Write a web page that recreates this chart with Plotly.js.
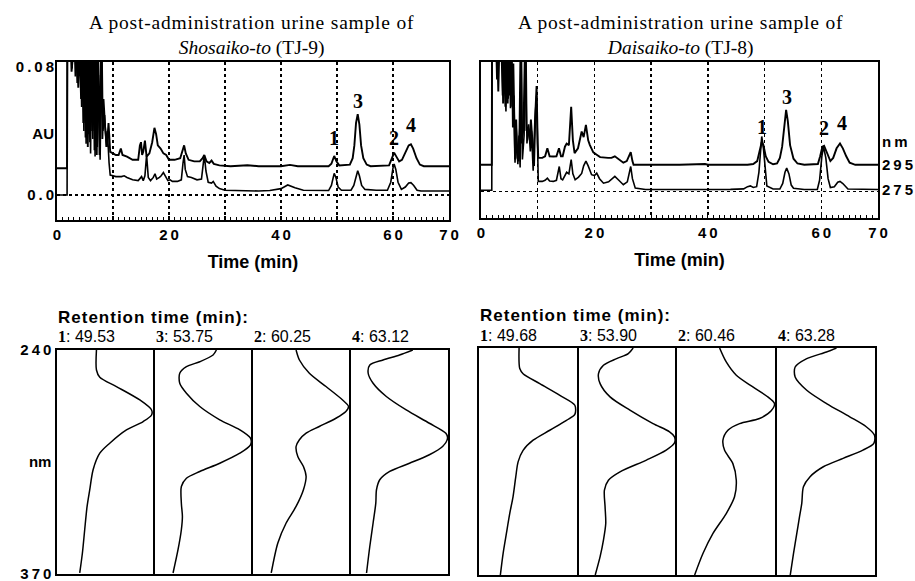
<!DOCTYPE html>
<html><head><meta charset="utf-8">
<script src="https://cdn.plot.ly/plotly-3.0.1.min.js"></script>
<style>body{margin:0;background:#fff}#g{width:915px;height:581px}</style>
</head><body><div id="g"></div>
<script>
// ---------- chromatogram data: [time (min), AU] ----------
const tj9_295 = [[0,0.0167],[1.8,0.0167],[1.85,0.1],[2.4,0.1],[2.6,0.077],[2.8,0.1],[3.1,0.1],[3.3,0.074],[3.5,0.1],[3.8,0.067],[4.0,0.1],[4.3,0.06],[4.5,0.1],[4.7,0.045],[4.9,0.1],[5.1,0.036],[5.3,0.1],[5.5,0.03],[5.7,0.09],[5.9,0.033],[6.1,0.1],[6.3,0.04],[6.5,0.1],[6.7,0.028],[6.9,0.085],[7.1,0.025],[7.3,0.1],[7.6,0.025],[7.9,0.1],[8.1,0.035],[8.3,0.06],[8.6,0.042],[8.9,0.03],[9.2,0.045],[9.5,0.027],
[10,0.026],[10.5,0.025],[11,0.025],[11.4,0.029],[11.7,0.025],[12.5,0.024],[13.5,0.022],[14.5,0.022],[14.8,0.031],[15.0,0.033],[15.2,0.025],[15.4,0.027],[15.7,0.034],[16.0,0.024],[16.5,0.026],[17.0,0.033],[17.4,0.042],[17.7,0.038],[18.0,0.031],[18.5,0.029],[19.0,0.026],[19.5,0.025],[20.0,0.022],[21.0,0.022],[22.0,0.023],[22.4,0.027],[22.7,0.031],[23.0,0.026],[23.5,0.022],[24.5,0.021],[25.5,0.021],[26.0,0.023],[26.3,0.025],[26.7,0.021],[27.2,0.02],[27.6,0.0215],[28.0,0.0195],[29,0.0185],[31,0.018],[34,0.0186],[36,0.018],[40,0.018],[41.6,0.0188],[43,0.018],[48.5,0.018],[49.0,0.0195],[49.5,0.0244],[49.9,0.021],[50.4,0.0185],[52.3,0.019],[52.8,0.023],[53.1,0.031],[53.4,0.045],[53.7,0.0505],[54.0,0.044],[54.3,0.031],[54.7,0.023],[55.3,0.019],[56,0.018],[59.3,0.0185],[59.8,0.023],[60.2,0.0265],[60.6,0.024],[61.1,0.021],[61.6,0.022],[62.2,0.026],[62.8,0.031],[63.2,0.0317],[63.6,0.029],[64.2,0.023],[64.8,0.019],[65.5,0.018],[70,0.018]];

const tj9_275 = [[0,0],[1.8,0],[1.85,0.1],[2.5,0.1],[2.7,0.079],[2.9,0.1],[3.4,0.1],[3.6,0.07],[3.8,0.1],[4.2,0.1],[4.4,0.055],[4.6,0.1],[4.8,0.04],[5.0,0.1],[5.2,0.032],[5.4,0.1],[5.6,0.038],[5.8,0.1],[6.0,0.026],[6.2,0.1],[6.4,0.035],[6.6,0.1],[6.8,0.024],[7.0,0.1],[7.2,0.03],[7.4,0.075],[7.7,0.022],[8.0,0.1],[8.2,0.04],[8.5,0.05],[8.8,0.03],[9.0,0.04],[9.3,0.02],[9.5,0.0125],
[10,0.012],[10.5,0.0115],[11.5,0.0115],[12,0.012],[12.5,0.011],[13.5,0.0095],[14.5,0.009],[14.8,0.0105],[15.1,0.0115],[15.4,0.009],[15.7,0.012],[16.0,0.025],[16.3,0.011],[16.7,0.009],[17.2,0.011],[17.5,0.0133],[17.8,0.01],[18.3,0.011],[18.6,0.012],[19.0,0.014],[19.4,0.011],[19.8,0.009],[20.2,0.0095],[20.6,0.0085],[21.5,0.0085],[22.2,0.0095],[22.5,0.02],[22.7,0.025],[22.9,0.016],[23.3,0.0115],[24,0.011],[25,0.0095],[25.8,0.01],[26.1,0.018],[26.3,0.025],[26.6,0.015],[27.0,0.008],[27.6,0.0075],[27.9,0.0085],[28.4,0.0055],[29,0.004],[30,0.003],[32,0.0028],[34,0.003],[36,0.0025],[38,0.0028],[40,0.004],[41.2,0.0063],[42.5,0.0045],[44,0.003],[46,0.0028],[48.5,0.0028],[49.0,0.006],[49.3,0.0115],[49.5,0.0135],[49.8,0.011],[50.2,0.005],[50.8,0.003],[52.5,0.003],[53.0,0.006],[53.4,0.012],[53.7,0.0152],[54.0,0.012],[54.4,0.006],[55,0.0035],[57,0.003],[59,0.003],[59.6,0.008],[60.0,0.017],[60.2,0.0194],[60.5,0.016],[60.9,0.008],[61.5,0.0035],[62.2,0.005],[62.8,0.0075],[63.2,0.0077],[63.7,0.006],[64.3,0.003],[65,0.0025],[70,0.0025]];

const tj8_295 = [[0,0.0167],[1.9,0.0167],[1.95,0.1],[2.8,0.1],[3.05,0.0625],[3.3,0.1],[3.7,0.1],[3.9,0.055],[4.1,0.1],[4.3,0.053],[4.5,0.09],[4.7,0.055],[4.9,0.1],[5.1,0.06],[5.3,0.1],[5.5,0.053],[5.7,0.08],[5.9,0.03],[6.0,0.02],[6.2,0.045],[6.4,0.021],[6.6,0.019],[6.8,0.04],[7.0,0.1],[7.2,0.03],[7.5,0.04],[7.8,0.1],[8.0,0.038],[8.3,0.04],[8.6,0.032],[8.8,0.045],[9.0,0.035],[9.35,0.016],[9.6,0.05],[9.8,0.066],[10.0,0.03],[10.1,0.021],
[10.8,0.021],[11.3,0.022],[11.7,0.027],[12.1,0.022],[12.75,0.0219],[13.3,0.022],[13.75,0.027],[14.1,0.022],[14.4,0.022],[14.8,0.028],[15.1,0.030],[15.5,0.029],[15.9,0.053],[16.2,0.032],[16.5,0.024],[17.1,0.027],[17.75,0.0375],[18.1,0.034],[18.5,0.0417],[18.9,0.032],[19.2,0.029],[19.8,0.0245],[20.4,0.023],[21.0,0.0215],[22.4,0.021],[23.0,0.021],[23.6,0.022],[24.3,0.02],[25.1,0.018],[25.7,0.019],[26.1,0.022],[26.4,0.0246],[26.7,0.019],[26.9,0.0167],[30,0.0167],[35,0.0167],[39.5,0.0172],[40,0.0167],[47,0.0167],[48.0,0.0172],[48.7,0.019],[49.1,0.025],[49.5,0.031],[49.8,0.029],[50.2,0.022],[50.7,0.0185],[51.5,0.017],[52.2,0.0175],[52.7,0.021],[53.1,0.028],[53.5,0.043],[53.8,0.051],[54.1,0.044],[54.5,0.029],[55.1,0.0205],[55.8,0.0175],[57,0.0167],[59.4,0.0172],[59.8,0.022],[60.2,0.028],[60.5,0.0286],[60.9,0.025],[61.3,0.0205],[61.6,0.019],[62.1,0.021],[62.7,0.027],[63.3,0.030],[63.8,0.027],[64.4,0.022],[65.0,0.018],[66,0.0167],[70,0.0167]];

const tj8_275 = [[0,0.0008],[1.9,0.0008],[1.95,0.1],[2.6,0.1],[2.8,0.07],[3.0,0.1],[3.5,0.1],[3.8,0.06],[4.0,0.1],[4.4,0.05],[4.6,0.1],[4.8,0.058],[5.0,0.1],[5.2,0.052],[5.4,0.1],[5.6,0.04],[5.8,0.06],[6.0,0.018],[6.2,0.04],[6.5,0.017],[6.7,0.035],[6.9,0.015],[7.1,0.1],[7.3,0.02],[7.6,0.035],[7.9,0.1],[8.1,0.03],[8.4,0.042],[8.7,0.025],[8.9,0.038],[9.2,0.013],[9.5,0.045],[9.8,0.06],[10.0,0.02],[10.1,0.0063],
[10.8,0.0063],[11.3,0.007],[11.7,0.0083],[12.1,0.0065],[12.75,0.0063],[13.3,0.007],[13.8,0.0156],[14.1,0.008],[14.4,0.0073],[14.8,0.01],[15.1,0.012],[15.5,0.011],[15.9,0.02],[16.2,0.011],[16.6,0.0073],[17.2,0.009],[17.75,0.0113],[18.1,0.016],[18.5,0.019],[18.9,0.016],[19.5,0.0105],[20.0,0.01],[20.4,0.0115],[20.9,0.008],[21.6,0.0052],[22.5,0.006],[23.6,0.0094],[24.3,0.007],[25.1,0.0042],[25.8,0.006],[26.1,0.011],[26.4,0.0156],[26.7,0.008],[27.2,0.0021],[29,0.0012],[33,0.0014],[38,0.0012],[44,0.0013],[46.3,0.0016],[47.0,0.003],[47.5,0.0035],[48.0,0.0025],[48.6,0.003],[49.0,0.012],[49.3,0.028],[49.5,0.0344],[49.8,0.027],[50.1,0.012],[50.4,0.0035],[51.5,0.0015],[52.7,0.0015],[53.2,0.005],[53.6,0.012],[53.9,0.0146],[54.3,0.011],[54.7,0.004],[55.1,0.002],[57,0.0012],[59.3,0.0012],[59.7,0.007],[60.1,0.022],[60.4,0.028],[60.8,0.021],[61.2,0.008],[61.6,0.0025],[62.3,0.003],[62.9,0.0058],[63.3,0.0063],[63.8,0.005],[64.7,0.0015],[70,0.0012]];

// ---------- UV spectra: [wavelength (nm), relative absorbance] ----------
const specTJ9_1 = [[240,0.413],[251.6,0.413],[255.8,0.448],[261.2,0.622],[269,0.867],[274.8,0.99],[277.7,0.99],[281.5,0.902],[286.4,0.727],[294.1,0.552],[299.9,0.448],[309.5,0.378],[321.1,0.343],[330.8,0.315],[344.3,0.29],[357.8,0.266],[369.4,0.238]];
const specTJ9_3 = [[240,0.643],[242.9,0.608],[246.8,0.469],[249.7,0.329],[253.5,0.259],[259.3,0.259],[265.1,0.329],[272.8,0.469],[280.5,0.678],[286.3,0.888],[291.2,1.0],[295,1.0],[299.9,0.888],[305.7,0.678],[310.5,0.469],[314.4,0.329],[319.2,0.276],[328.9,0.276],[336.6,0.287],[344.3,0.276],[355.9,0.241],[369.4,0.189]];
const specTJ9_2 = [[240,0.451],[245.8,0.486],[253.5,0.59],[261.2,0.764],[269,0.938],[272.8,1.0],[275.7,0.972],[279.6,0.868],[284.4,0.694],[288.3,0.556],[292.1,0.486],[296,0.451],[301.8,0.469],[307.6,0.528],[313.4,0.556],[321.1,0.528],[330.8,0.451],[340.4,0.347],[352,0.26],[369.4,0.191]];
const specTJ9_4 = [[240,0.64],[242.9,0.503],[245.8,0.332],[248.7,0.195],[253.5,0.178],[259.3,0.229],[267,0.366],[274.8,0.572],[282.5,0.812],[288.3,0.983],[291.2,1.0],[296,0.949],[300.8,0.812],[305.7,0.606],[310.5,0.401],[315.3,0.298],[321.1,0.264],[328.9,0.257],[340.4,0.229],[353.9,0.195],[369.4,0.161]];
const specTJ8_1 = [[240,0.411],[251.8,0.418],[254.7,0.452],[260.4,0.623],[267.1,0.829],[272.8,0.983],[278,0.983],[281.4,0.897],[287.1,0.726],[292.8,0.555],[298.6,0.452],[305.2,0.401],[313.8,0.377],[325.2,0.349],[334.8,0.315],[346.2,0.281],[357.7,0.247],[370,0.219]];
const specTJ8_3 = [[240,0.567],[243.2,0.516],[246.1,0.394],[249.9,0.256],[254.7,0.204],[260.4,0.221],[268,0.325],[275.6,0.533],[283.3,0.775],[288,0.948],[290.9,1.0],[294.3,1.0],[298.5,0.913],[304.2,0.706],[310.9,0.429],[315.7,0.308],[321.4,0.266],[331,0.273],[340.5,0.28],[350,0.256],[359.5,0.221],[370,0.17]];
const specTJ8_2 = [[240,0.437],[248,0.505],[255.6,0.608],[262.3,0.778],[268,0.932],[271.8,1.0],[276,0.966],[280.4,0.846],[283.3,0.642],[287.1,0.522],[292.8,0.471],[298.6,0.488],[306.2,0.573],[315.7,0.608],[325.2,0.59],[334.8,0.505],[346.2,0.369],[357.7,0.266],[370,0.181]];
const specTJ8_4 = [[240,0.61],[242.3,0.508],[246.1,0.305],[250.9,0.186],[256.6,0.186],[264.2,0.305],[271.8,0.508],[279.4,0.746],[285.1,0.915],[289.9,1.0],[294.6,0.993],[298.5,0.881],[303.2,0.678],[308,0.475],[313.7,0.339],[319.5,0.271],[329,0.254],[336.6,0.231],[346.2,0.203],[357.7,0.169],[370,0.136]];

const peakLabels = ['1','3','2','4'];
const rtTJ9 = ['49.53','53.75','60.25','63.12'];
const rtTJ8 = ['49.68','53.90','60.46','63.28'];
const peakTimesTJ9 = [49.5,53.7,60.2,63.3];
const peakLabelAU_TJ9 = [0.0356,0.0588,0.0356,0.0438];
const peakTimesTJ8 = [49.5,54.0,60.5,63.6];
const peakLabelAU_TJ8 = [0.0406,0.0594,0.0396,0.0428];
const xTickVals = [0,10,20,30,40,50,60,70];
const xTickText = ['0','','2\u20090','','4\u20090','','6\u20090','7\u20090'];
const auTickVals = [0, 0.038, 0.08];
const auTickText = ['0\u2009.\u20090', 'AU', '0\u2009.\u20090\u20098'];
const nmTickVals = [0.0008, 0.0167, 0.031];
const nmTickText = ['2\u20097\u20095', '2\u20099\u20095', 'n\u2009m'];
const wlTickVals = [240, 305, 370];
const wlTickText = ['2\u20094\u20090', 'nm', '3\u20097\u20090'];

// ---------- build ----------
const SANS = 'Liberation Sans, Arial, sans-serif';
const SERIF = 'Liberation Serif, Times New Roman, serif';
const W = 915, H = 581;
const px = v => v / W, py = v => 1 - v / H;
const BOLD15 = {family: SANS, size: 15, color: '#000', weight: 'bold'};

const data = [];
function chrom(arr, xa, ya, w) {
  data.push({x: arr.map(p => p[0]), y: arr.map(p => p[1]), xaxis: xa, yaxis: ya,
    type: 'scatter', mode: 'lines', line: {color: '#000', width: w}, hoverinfo: 'skip'});
}
chrom(tj9_295, 'x', 'y', 1.9); chrom(tj9_275, 'x', 'y', 1.6);
chrom(tj8_295, 'x2', 'y2', 1.9); chrom(tj8_275, 'x2', 'y2', 1.6);
// empty carriers so the labelled overlay axes get drawn
data.push({x: [null], y: [null], xaxis: 'x', yaxis: 'y11', type: 'scatter', mode: 'lines', hoverinfo: 'skip'});
data.push({x: [null], y: [null], xaxis: 'x2', yaxis: 'y12', type: 'scatter', mode: 'lines', hoverinfo: 'skip'});

const specs = [specTJ9_1, specTJ9_3, specTJ9_2, specTJ9_4, specTJ8_1, specTJ8_3, specTJ8_2, specTJ8_4];
specs.forEach((s, i) => {
  const n = i + 3;
  data.push({x: s.map(p => p[1]), y: s.map(p => p[0]), xaxis: 'x' + n, yaxis: 'y' + n,
    type: 'scatter', mode: 'lines', line: {color: '#000', width: 1.5, shape: 'spline', smoothing: 0.8}, hoverinfo: 'skip'});
});

const frame = {showline: true, mirror: true, linecolor: '#000', linewidth: 1.6, zeroline: false};
function chromX(dom, anchor) {
  return Object.assign({}, frame, {domain: dom, anchor: anchor, range: [0, 70], tickmode: 'array',
    tickvals: xTickVals, ticktext: xTickText, showgrid: true, gridcolor: '#000', gridwidth: 1.5, griddash: 'dot',
    ticks: 'inside', ticklen: 4, tickcolor: '#000', tickwidth: 1.2, ticklabeloverflow: 'allow',
    minor: {tickmode: 'linear', tick0: 0, dtick: 1, ticks: 'inside', ticklen: 3, tickcolor: '#000', tickwidth: 1, showgrid: false},
    tickfont: BOLD15,
    title: {text: 'Time (min)', font: {family: SANS, size: 18, color: '#000', weight: 'bold'}, standoff: 14}});
}
function chromY(dom, anchor, rng) {
  return Object.assign({}, frame, {domain: dom, anchor: anchor, range: rng, tickmode: 'array', tickvals: [0],
    showticklabels: false, ticks: '', showgrid: true, gridcolor: '#000', gridwidth: 1.5, griddash: 'dot'});
}
const layout = {
  width: W, height: H, margin: {l: 0, r: 0, t: 0, b: 0}, paper_bgcolor: '#fff', plot_bgcolor: '#fff',
  showlegend: false, font: {family: SANS, color: '#000'},
  xaxis: chromX([px(57), px(449)], 'y'),
  yaxis: chromY([py(220), py(62)], 'x', [-0.0156, 0.0831]),
  xaxis2: chromX([px(481), px(878)], 'y2'),
  yaxis2: chromY([py(218), py(62)], 'x2', [-0.0166, 0.081]),
  yaxis11: {overlaying: 'y', anchor: 'x', side: 'left', range: [-0.0156, 0.0831], tickmode: 'array',
    tickvals: auTickVals, ticktext: auTickText, showgrid: false, zeroline: false, showline: false, ticks: '',
    ticklabelstandoff: 2, ticklabeloverflow: 'allow', tickfont: BOLD15},
  yaxis12: {overlaying: 'y2', anchor: 'x2', side: 'right', range: [-0.0166, 0.081], tickmode: 'array',
    tickvals: nmTickVals, ticktext: nmTickText, showgrid: false, zeroline: false, showline: false, ticks: '',
    ticklabelstandoff: 3, ticklabeloverflow: 'allow', tickfont: BOLD15},
  annotations: [], shapes: []
};

const panelsL = [[57,153],[155,251],[253,349],[351,448]];
const panelsR = [[479,577],[579,675],[677,775],[777,875]];
function specAxes(n, xd, yd, labelled) {
  layout['xaxis' + n] = Object.assign({}, frame, {domain: xd, anchor: 'y' + n, range: [0, 1.005],
    showticklabels: false, ticks: '', showgrid: false});
  const ya = Object.assign({}, frame, {domain: yd, anchor: 'x' + n, range: [370, 240], ticks: '', showgrid: false});
  if (labelled) {
    Object.assign(ya, {tickmode: 'array', tickvals: wlTickVals, ticktext: wlTickText,
      tickfont: BOLD15, ticklabelstandoff: 1, ticklabeloverflow: 'allow'});
  } else ya.showticklabels = false;
  layout['yaxis' + n] = ya;
}
panelsL.forEach((p, i) => specAxes(i + 3, [px(p[0]), px(p[1])], [py(574), py(350)], i === 0));
panelsR.forEach((p, i) => specAxes(i + 7, [px(p[0]), px(p[1])], [py(575), py(348)], false));

const ann = layout.annotations;
function txt(o) { ann.push(Object.assign({showarrow: false, xref: 'paper', yref: 'paper', xanchor: 'center', yanchor: 'middle'}, o)); }
const TITLE = {family: SERIF, size: 19.5, color: '#000'};
const TL1 = '<span style="letter-spacing:0.8px">A post-administration urine sample of</span>';
// titles (two lines each, one text block)
txt({x: px(251), y: py(36), text: TL1 + '<br><i>Shosaiko-to</i> (TJ-9)', font: TITLE});
txt({x: px(680), y: py(36), text: TL1 + '<br><i>Daisaiko-to</i> (TJ-8)', font: TITLE});
// peak labels on chromatograms
peakLabels.forEach((l, i) => {
  ann.push({xref: 'x', yref: 'y', x: peakTimesTJ9[i], y: peakLabelAU_TJ9[i], text: '<b>' + l + '</b>', showarrow: false,
    xanchor: 'center', yanchor: 'middle', font: {family: SERIF, size: 20, color: '#000'}});
  ann.push({xref: 'x2', yref: 'y2', x: peakTimesTJ8[i], y: peakLabelAU_TJ8[i], text: '<b>' + l + '</b>', showarrow: false,
    xanchor: 'center', yanchor: 'middle', font: {family: SERIF, size: 20, color: '#000'}});
});
// spectra headings
const RT = '<span style="letter-spacing:1px">Retention time (min):</span>';
txt({x: px(56), y: py(317), xanchor: 'left', text: '<b>' + RT + '</b>', font: {family: SANS, size: 17, color: '#000'}});
txt({x: px(478), y: py(315), xanchor: 'left', text: '<b>' + RT + '</b>', font: {family: SANS, size: 17, color: '#000'}});
peakLabels.forEach((l, i) => {
  txt({x: px(panelsL[i][0] - 1), y: py(337), xanchor: 'left',
    text: '<span style="font-family:Liberation Serif;font-weight:bold">' + l + '</span>: ' + rtTJ9[i], font: {family: SANS, size: 16, color: '#000'}});
  txt({x: px(panelsR[i][0] - 1), y: py(335), xanchor: 'left',
    text: '<span style="font-family:Liberation Serif;font-weight:bold">' + l + '</span>: ' + rtTJ8[i], font: {family: SANS, size: 16, color: '#000'}});
});

Plotly.newPlot('g', data, layout, {staticPlot: true});
</script></body></html>
